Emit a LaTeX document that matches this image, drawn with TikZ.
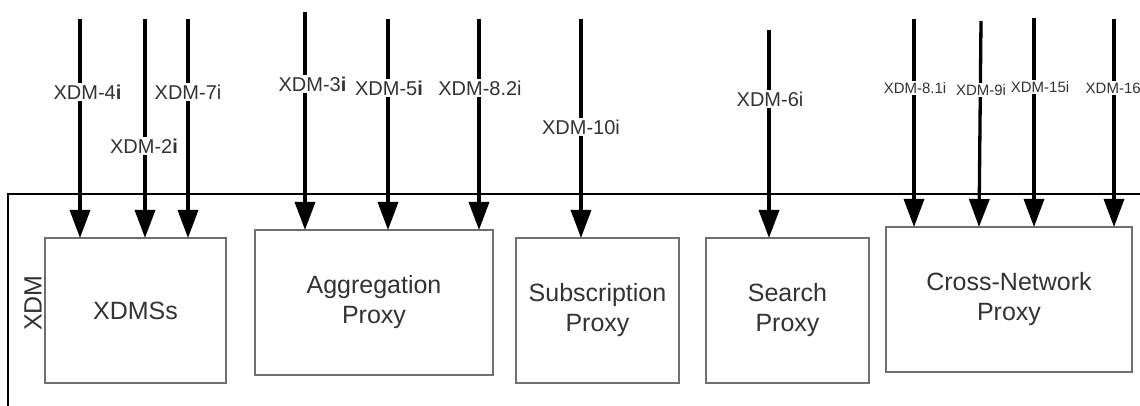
\documentclass[tikz,border=0pt]{standalone}
\usepackage{fontspec}
\setmainfont{Liberation Sans}
\usetikzlibrary{arrows.meta}
\definecolor{boxgray}{HTML}{707070}
\definecolor{txtgray}{HTML}{333333}
\begin{document}
\begin{tikzpicture}[x=1pt,y=-1pt,
  frame/.style={line width=1.2pt,black},
  compbox/.style={draw=boxgray,line width=1.3pt,inner sep=0pt},
  comptext/.style={font=\fontsize{25}{30}\selectfont,text=txtgray,align=center},
  iface/.style={line width=3.3pt,-{Triangle[width=20pt,length=28pt]}},
  ilabel/.style={fill=white,inner sep=1.5pt,font=\fontsize{20}{24}\selectfont,text=txtgray},
  slabel/.style={fill=white,inner sep=1.5pt,font=\fontsize{15}{18}\selectfont,text=txtgray}]
\useasboundingbox (0,0) rectangle (1140,406);
% XDM frame
\coordinate (fbl) at (8,406);
\coordinate (ftl) at (8,194);
\coordinate (ftr) at (1140,194);
\draw[frame] (fbl) -- (ftl) -- (ftr);
\node[rotate=90,font=\fontsize{25}{30}\selectfont,text=txtgray] (xdm) at (33,303) {XDM};
% boxes
\draw[compbox] (45,238) rectangle (226,383);
\node[comptext] (xdmst) at (135.5,310.5) {XDMSs};
\draw[compbox] (255,230) rectangle (493,375);
\node[comptext] (aggt) at (374,302) {Aggregation\\Proxy};
\draw[compbox] (516,238) rectangle (679,383);
\node[comptext] (subt) at (597.5,310) {Subscription\\Proxy};
\draw[compbox] (706,238) rectangle (869,383);
\node[comptext] (seat) at (787.5,310) {Search\\Proxy};
\draw[compbox] (886,227) rectangle (1132,372);
\node[comptext] (cnpt) at (1009,299) {Cross-Network\\Proxy};
% interface endpoints
\foreach \n/\x/\yt/\yb in {a4/80/19/238, a2/145/19/238, a7/188/19/238,
  a3/305/12/230, a5/388/19/230, a82/479/19/230,
  a10/581/19/238, a6/769/30/238,
  a81/914/19/227, a15/1034/18/227, a16/1114/19/227}{
  \coordinate (\n-t) at (\x,\yt);
  \coordinate (\n-b) at (\x,\yb);
}
\coordinate (a9-t) at (981,21);
\coordinate (a9-b) at (979,227);
\foreach \n in {a4,a2,a7,a3,a5,a82,a10,a6,a81,a9,a15,a16}{
  \draw[iface] (\n-t) -- (\n-b);
}
% labels
\node[ilabel] (l4) at (87.5,92) {XDM-4\textbf{i}};
\node[ilabel] (l2) at (144,146) {XDM-2\textbf{i}};
\node[ilabel] (l7) at (188,92) {XDM-7i};
\node[ilabel] (l3) at (312.5,84) {XDM-3\textbf{i}};
\node[ilabel] (l5) at (389,88) {XDM-5\textbf{i}};
\node[ilabel] (l82) at (480,88) {XDM-8.2i};
\node[ilabel] (l10) at (581,127) {XDM-10i};
\node[ilabel] (l6) at (770,99) {XDM-6i};
\node[slabel] (l81) at (915,88) {XDM-8.1i};
\node[slabel] (l9) at (981,90) {XDM-9i};
\node[slabel] (l15) at (1040,87) {XDM-15i};
\node[slabel,anchor=west] (l16) at (1084,88) {XDM-16};
\end{tikzpicture}
\end{document}
